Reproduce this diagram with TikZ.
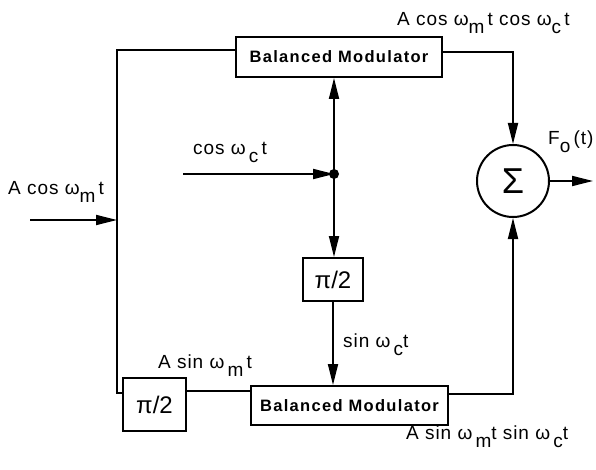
\documentclass[tikz,border=0pt]{standalone}
\usepackage{fontspec}
\setmainfont{Liberation Sans}
\usetikzlibrary{arrows.meta}
\newcommand{\lsub}[1]{\raisebox{-8pt}{#1}}
\begin{document}
\begin{tikzpicture}[x=1pt,y=-1pt,
  box/.style={draw,line width=2pt,inner sep=0pt},
  bmfont/.style={font=\bfseries\fontsize{16.5}{17}\selectfont\addfontfeatures{LetterSpace=8}},
  pifont/.style={font=\fontsize{24}{24}\selectfont},
  wire/.style={line width=1.8pt},
  arr/.style={wire,-{Triangle[length=21pt,width=10pt]}},
  lbl/.style={anchor=base west,inner sep=0pt,font=\fontsize{19}{19}\selectfont\addfontfeatures{LetterSpace=5}}]
\useasboundingbox (0,0) rectangle (596,470);
% blocks
\node[box,bmfont,minimum width=206pt,minimum height=40pt] (bm1) at (339,57) {Balanced Modulator};
\node[box,bmfont,minimum width=197pt,minimum height=39pt] (bm2) at (349.5,405.5) {Balanced Modulator};
\node[box,pifont,minimum width=60pt,minimum height=43pt] (pa) at (333,279.5) {π/2};
\node[box,pifont,minimum width=63pt,minimum height=53pt] (pb) at (154.5,404.5) {π/2};
\node[draw,circle,line width=2pt,minimum size=72pt,inner sep=0pt,font=\fontsize{36}{36}\selectfont] (sum) at (513,181) {Σ};
% coordinates
\coordinate (j) at (334,174);
\coordinate (cin) at (183,174);
\coordinate (ain) at (30,220);
\coordinate (lv) at (117,220);
\coordinate (tl) at (117,50);
\coordinate (bl) at (117,393);
\coordinate (ly) at (0,391);
\coordinate (ty) at (0,52);
\coordinate (by) at (0,394);
\coordinate (out) at (593,181);
% connectors
\draw[wire] (bm1.west |- tl) -- (tl) -- (bl) -- (pb.west |- bl);
\draw[arr] (ain) -- (lv);
\draw[arr] (cin) -- (j);
\fill (j) circle (5pt);
\draw[arr] (j) -- (j |- bm1.south);
\draw[arr] (j) -- (j |- pa.north);
\draw[arr] (pa.south) -- (pa.south |- bm2.north);
\draw[wire] (pb.east |- ly) -- (bm2.west |- ly);
\draw[arr] (bm1.east |- ty) -| (sum.north);
\draw[arr] (bm2.east |- by) -| (sum.south);
\draw[arr] (sum.east) -- (out);
% labels
\node[lbl] (l1) at (8,195) {A cos ω\lsub{m}\,t};
\node[lbl] (l2) at (193,155) {cos ω\,\lsub{c}\,t};
\node[lbl] (l3) at (397,26) {A cos ω\lsub{m}\,t cos ω\lsub{c}\,t};
\node[lbl] (l4) at (548,145) {F\lsub{o}\,(t)};
\node[lbl] (l5) at (343,347) {sin ω\,\lsub{c}t};
\node[lbl] (l6) at (158,368) {A sin ω\,\lsub{m}\,t};
\node[lbl] (l7) at (406,439) {A sin ω\,\lsub{m}t sin ω\,\lsub{c}t};
\end{tikzpicture}
\end{document}
